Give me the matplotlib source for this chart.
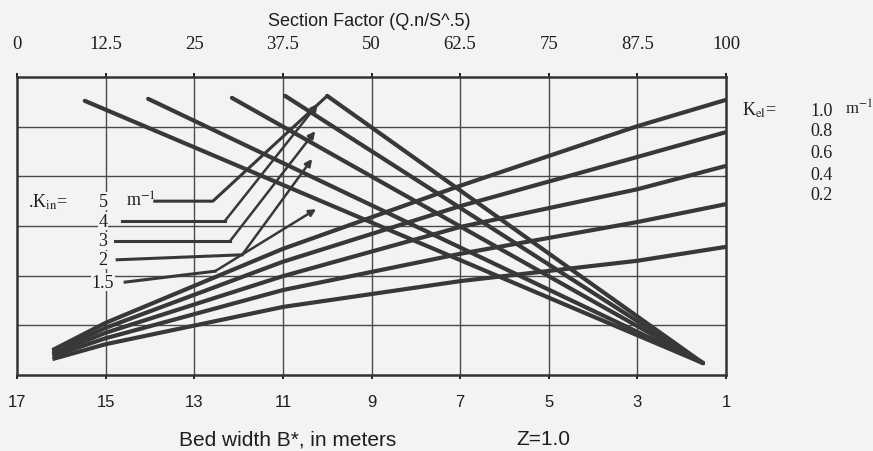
import numpy as np
import matplotlib.pyplot as plt

plt.rcParams['mathtext.fontset'] = 'stix'

# bottom axis (bed width, m) and top axis (section factor)
bed_ticks = [17, 15, 13, 11, 9, 7, 5, 3, 1]
sf_ticks = [0, 12.5, 25, 37.5, 50, 62.5, 75, 87.5, 100]
sf_labels = ['0', '12.5', '25', '37.5', '50', '62.5', '75', '87.5', '100']

# descending family, K_in
k_in = ['5', '4', '3', '2', '1.5']
k_in_start_B = [10.00, 10.95, 12.15, 14.04, 15.47]
k_in_start_y = [5.62, 5.62, 5.58, 5.56, 5.52]
k_in_end_B = 1.52
k_in_end_y = 0.24

# rising family, K_el
k_el = ['1.0', '0.8', '0.6', '0.4', '0.2']
k_el_B = [16.2, 15.0, 11.0, 7.0, 3.0, 1.0]
y_el_10 = [0.50, 1.05, 2.54, 3.81, 5.01, 5.54]
y_el_08 = [0.46, 0.95, 2.28, 3.40, 4.39, 4.89]
y_el_06 = [0.42, 0.85, 1.99, 2.98, 3.74, 4.21]
y_el_04 = [0.38, 0.74, 1.71, 2.44, 3.08, 3.44]
y_el_02 = [0.32, 0.62, 1.37, 1.89, 2.30, 2.58]
y_el = [y_el_10, y_el_08, y_el_06, y_el_04, y_el_02]

W, H = 873, 452
bg = '#f3f3f3'
ink = '#383838'
txt = '#1e1e1e'

def fx(px):
    return px / W

def fy(py):
    return 1 - py / H

fig = plt.figure(figsize=(W / 100, H / 100), dpi=100, facecolor=bg)
ax = fig.add_axes([fx(17), fy(376), fx(726) - fx(17), fy(78) - fy(376)])
ax.set_facecolor(bg)

ax.set_xlim(17, 1)
ax.set_ylim(0, 6)

# grid
for b in bed_ticks[1:-1]:
    ax.axvline(b, color='#4a4a4a', lw=1.0, zorder=1)
for g in range(1, 6):
    ax.axhline(g, color='#4a4a4a', lw=1.0, zorder=1)

for s in ax.spines.values():
    s.set_linewidth(1.8)
    s.set_color('#333333')

# rising lines
for ys in y_el:
    ax.plot(k_el_B, ys, color=ink, lw=3.0, solid_capstyle='butt',
            solid_joinstyle='round', zorder=3)

# descending lines
for b0, y0 in zip(k_in_start_B, k_in_start_y):
    ax.plot([b0, k_in_end_B], [y0, k_in_end_y], color=ink, lw=3.0,
            solid_capstyle='round', zorder=3)

# leader lines from K_in labels
leaders = [
    [(13.89, 3.50), (12.58, 3.50), (10.00, 5.62)],
    [(14.63, 3.10), (12.31, 3.10), (10.21, 5.46)],
    [(14.79, 2.70), (12.19, 2.70), (10.27, 4.91)],
    [(14.74, 2.32), (11.92, 2.42), (10.34, 4.35)],
    [(14.56, 1.87), (12.53, 2.09), (10.25, 3.34)],
]
for i, path in enumerate(leaders):
    xs = [p[0] for p in path]
    ys = [p[1] for p in path]
    if i == 0:
        ax.plot(xs, ys, color=ink, lw=2.2, zorder=3)
    else:
        ax.plot(xs[:2], ys[:2], color=ink, lw=2.2, zorder=3)
        ax.annotate('', xy=path[2], xytext=path[1],
                    arrowprops=dict(arrowstyle='-|>', color=ink, lw=1.8,
                                    mutation_scale=10, shrinkA=0, shrinkB=0),
                    zorder=3)

serif = 'Liberation Serif'
label_y = [3.50, 3.10, 2.70, 2.32, 1.87]
ax.text(16.75, 3.50, r'.K$_{\rm in}$=', family=serif, fontsize=13,
        va='center', ha='left', color=txt)
for lab, yy in zip(k_in, label_y):
    ax.text(15.06, yy, lab, family=serif, fontsize=13, va='center',
            ha='center', color=txt,
            bbox=dict(facecolor=bg, edgecolor='none', pad=0.5))
ax.text(14.55, 3.52, r'm$^{-1}$', family=serif, fontsize=13, va='center',
        ha='left', color=txt)

# K_el labels on the right
fig.text(fx(742), fy(110), r'K$_{\rm el}$=', family=serif, fontsize=13,
         va='center', ha='left', color=txt)
el_py = [111, 132, 154, 175, 196]
for lab, py in zip(k_el, el_py):
    fig.text(fx(810), fy(py), lab, family=serif, fontsize=13,
             va='center', ha='left', color=txt)
fig.text(fx(845), fy(109), r'm$^{-1}$', family=serif, fontsize=12,
         va='center', ha='left', color=txt)

# bottom axis
ax.set_xticks(bed_ticks)
ax.set_xticklabels([str(b) for b in bed_ticks], family='Liberation Sans',
                   fontsize=12, color=txt)
ax.tick_params(axis='x', direction='out', length=3, width=1.2, pad=11)
ax.set_yticks([])

# top axis
sec = ax.secondary_xaxis('top', functions=(lambda b: (17 - np.asarray(b)) / 16 * 100,
                                           lambda s: 17 - np.asarray(s) * 0.16))
sec.set_xticks(sf_ticks)
sec.set_xticklabels(sf_labels, family=serif, fontsize=13.5, color=txt)
sec.tick_params(direction='out', length=3, width=1.2, pad=15)
sec.spines['top'].set_visible(False)

fig.text(fx(369), fy(21), 'Section Factor (Q.n/S^.5)', family='Liberation Sans',
         fontsize=13, ha='center', va='center', color=txt)
fig.text(fx(288), fy(440), 'Bed width B*, in meters', family='Liberation Sans',
         fontsize=15, ha='center', va='center', color=txt)
fig.text(fx(543), fy(440), 'Z=1.0', family='Liberation Sans',
         fontsize=15, ha='center', va='center', color=txt)

fig.savefig('out.png', dpi=100, facecolor=bg)
